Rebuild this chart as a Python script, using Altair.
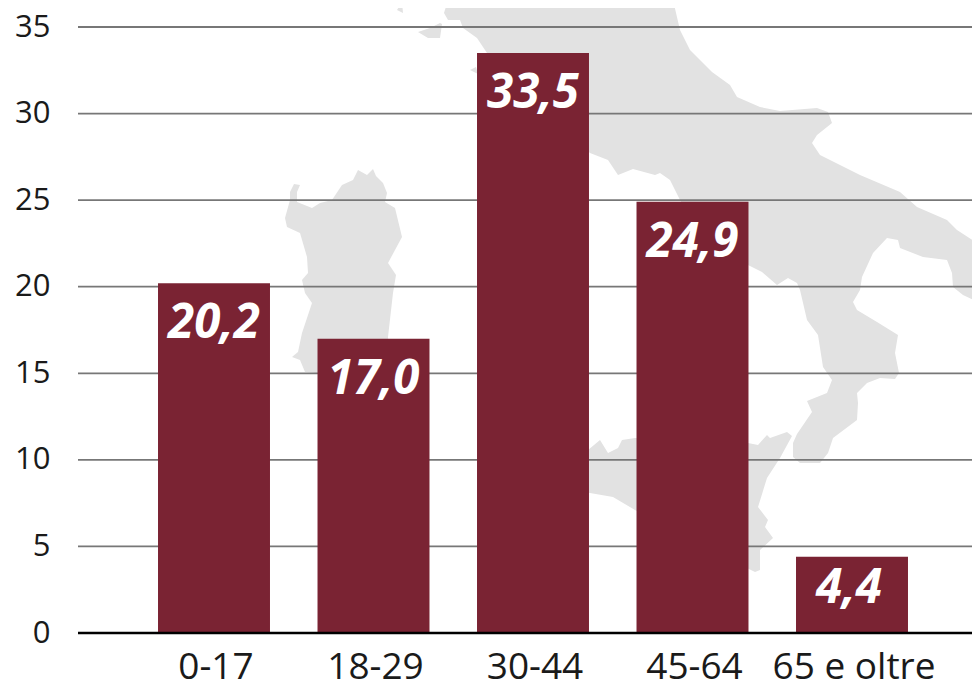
import altair as alt
import pandas as pd

categories = ["0-17", "18-29", "30-44", "45-64", "65 e oltre"]
values = [20.2, 17.0, 33.5, 24.9, 4.4]
y_ticks = [0, 5, 10, 15, 20, 25, 30, 35]

FONT = "Open Sans"
BAR = "#7a2333"
MAP = "#e2e2e2"

# Background map outlines (decorative silhouette of southern Italy)
mainland = [[448,0],[444,13],[448,20],[460,20],[463,28],[477,38],[487,53],[520,90],[560,125],[590,153],
    [608,160],[618,175],[633,169],[655,175],[660,173],[670,180],[680,200],[700,235],[748,265],[762,272],
    [777,285],[788,278],[797,283],[800,290],[807,320],[818,335],[823,367],[832,380],[827,393],[807,401],
    [812,412],[797,434],[793,443],[793,457],[800,463],[820,463],[828,453],[833,438],[857,420],[858,403],
    [857,393],[867,383],[880,378],[895,379],[899,373],[895,353],[898,335],[877,322],[857,310],[853,302],
    [860,290],[862,277],[873,253],[887,238],[898,240],[900,248],[923,257],[947,260],[952,273],[953,287],
    [963,295],[980,303],[980,245],[957,230],[947,220],[917,207],[900,192],[860,175],[820,155],[812,143],
    [817,135],[832,123],[828,112],[817,108],[780,111],[760,107],[737,97],[730,85],[712,72],[690,50],
    [680,30],[673,0],[448,0]]
sardinia = [[358,170],[367,175],[373,169],[376,176],[383,183],[387,193],[385,202],[395,208],[402,237],
    [388,263],[396,275],[393,293],[388,337],[390,373],[318,373],[305,372],[300,360],[292,357],[298,352],
    [302,333],[312,303],[305,293],[302,280],[308,273],[307,257],[300,233],[287,227],[285,218],[290,200],
    [290,192],[294,184],[300,185],[297,192],[297,202],[312,208],[320,203],[332,200],[342,185],[353,180],[358,170]]
sicily = [[560,450],[588,450],[600,440],[608,453],[618,448],[622,440],[635,438],[748,443],[758,445],
    [767,435],[770,438],[787,432],[792,436],[780,458],[767,478],[758,507],[768,520],[765,527],[773,538],
    [760,550],[760,570],[755,572],[700,545],[635,510],[613,497],[590,493],[560,490],[560,450]]
isle_a = [[397,10],[402,2],[403,13],[397,10]]
isle_b = [[418,32],[430,28],[440,23],[442,24],[440,38],[428,38],[418,32]]
isle_c = [[470,70],[476,67],[478,74],[470,70]]
outlines = [mainland, sardinia, sicily, isle_a, isle_b, isle_c]

features = [
    {"type": "Feature", "properties": {}, "geometry": {"type": "Polygon", "coordinates": [o]}}
    for o in outlines
]

df = pd.DataFrame({"cat": categories, "value": values})
df["label"] = [f"{v:.1f}".replace(".", ",") for v in values]
grid_df = pd.DataFrame({"tick": [t for t in y_ticks if t > 0]})

x_scale = alt.Scale(domain=categories, range=[56.25, 853.75], paddingInner=0.298, paddingOuter=0.149)
y_scale = alt.Scale(domain=[0, 35], nice=False)

y_axis = alt.Axis(values=y_ticks, grid=False, domain=False, ticks=False, title=None,
                  labelFont=FONT, labelFontSize=31, labelColor="#1a1a1a", labelPadding=28,
                  labelAlign="right", labelBaseline="middle", labelFlush=False)
x_axis = alt.Axis(domain=False, ticks=False, grid=False, title=None, labelAngle=0, labelOffset=2,
                  labelFont=FONT, labelFontSize=37, labelColor="#1a1a1a", labelPadding=16)

X = alt.X("cat:N", scale=x_scale, sort=categories, axis=x_axis)


def Y(field):
    return alt.Y(field, scale=y_scale, axis=y_axis)


map_layer = alt.Chart(alt.Data(values=features)).mark_geoshape(
    fill=MAP, stroke=None, strokeWidth=0, clip=False
).project(type="identity", scale=1, translate=[-78, -27])

grid = alt.Chart(grid_df).mark_rule(color="#777777", strokeWidth=1.8).encode(y=Y("tick:Q"))

bars = alt.Chart(df).mark_bar(color=BAR, opacity=1).encode(x=X, y=Y("value:Q"))

baseline = alt.Chart(pd.DataFrame({"zero": [0]})).mark_rule(color="#000000", strokeWidth=2.5).encode(y=Y("zero:Q"))

text_style = dict(font=FONT, fontSize=47.5, fontWeight="bold", fontStyle="italic", color="white",
                  baseline="alphabetic", align="center")
text_base = alt.Chart(df)
text_main = text_base.transform_filter("datum.value >= 5").mark_text(dy=55, **text_style).encode(
    x=X, y=Y("value:Q"), text="label:N")
text_small = text_base.transform_filter("datum.value < 5").mark_text(dy=46, dx=-3, **text_style).encode(
    x=X, y=Y("value:Q"), text="label:N")

chart = alt.layer(map_layer, grid, bars, baseline, text_main, text_small).properties(
    width=894, height=606,
    autosize=alt.AutoSizeParams(type="none"),
    padding={"left": 70, "top": 19, "right": 0, "bottom": 51},
    background="white",
).configure_view(stroke=None)

chart.save("out.html", embed_options={"renderer": "svg", "actions": False})
